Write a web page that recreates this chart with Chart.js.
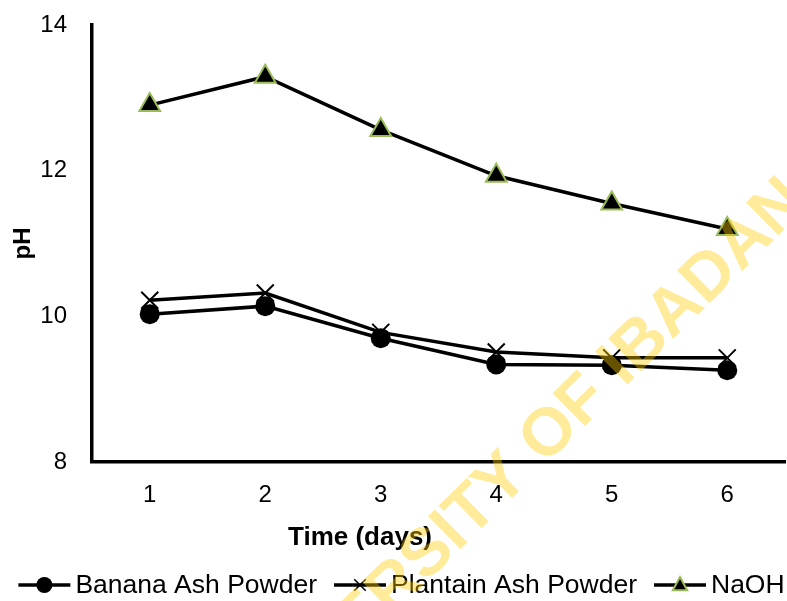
<!DOCTYPE html>
<html>
<head>
<meta charset="utf-8">
<script src="https://cdn.jsdelivr.net/npm/chart.js@4"></script>
<style>
  html, body { margin: 0; padding: 0; background: #fff; }
  #wrap { width: 787px; height: 601px; }
</style>
</head>
<body>
<div id="wrap"><canvas id="phChart" width="787" height="601"></canvas></div>
<script>
const FONT = "'Liberation Sans', Arial, sans-serif";
const C_GREEN = '#9BBB59';

const days = ['1', '2', '3', '4', '5', '6'];
const banana = [10.03, 10.14, 9.70, 9.34, 9.33, 9.26];
const plantain = [10.22, 10.32, 9.78, 9.51, 9.43, 9.43];
const naoh = [12.90, 13.29, 12.56, 11.93, 11.55, 11.20];
const yTicks = [8, 10, 12, 14];
const xTitle = 'Time (days)';

// marker for the legend, same look as the points on the lines
function drawMarker(ctx, ds, x, y, r) {
    ctx.save();
    ctx.fillStyle = ds.pointBackgroundColor || '#000';
    ctx.strokeStyle = ds.pointBorderColor || '#000';
    ctx.lineWidth = ds.pointBorderWidth || 0;
    ctx.beginPath();
    if (ds.pointStyle === 'circle') {
        ctx.arc(x, y, r, 0, Math.PI * 2);
        ctx.fill();
    } else if (ds.pointStyle === 'crossRot') {
        const d = r * 0.72;
        ctx.lineWidth = 1.5;
        ctx.moveTo(x - d, y - d); ctx.lineTo(x + d, y + d);
        ctx.moveTo(x + d, y - d); ctx.lineTo(x - d, y + d);
        ctx.stroke();
    } else {
        ctx.moveTo(x, y - r);
        ctx.lineTo(x + r * 0.9, y + r * 0.65);
        ctx.lineTo(x - r * 0.9, y + r * 0.65);
        ctx.closePath();
        ctx.fill();
        ctx.stroke();
    }
    ctx.restore();
}

const bottomLegend = {
    id: 'bottomLegend',
    afterDraw(chart) {
        const ctx = chart.ctx;
        const y = 585, lineW = 52, gapText = 5, gapItem = 17;
        ctx.save();
        ctx.font = '26.5px ' + FONT;
        const sets = chart.data.datasets;
        const widths = sets.map(ds => ctx.measureText(ds.label).width);
        let total = 0;
        widths.forEach((w, i) => { total += lineW + gapText + w + (i ? gapItem : 0); });
        let x = 401.5 - total / 2;
        sets.forEach((ds, i) => {
            ctx.strokeStyle = ds.borderColor;
            ctx.lineWidth = 3.5;
            ctx.beginPath();
            ctx.moveTo(x, y);
            ctx.lineTo(x + lineW, y);
            ctx.stroke();
            drawMarker(ctx, ds, x + lineW / 2, y, 8);
            ctx.fillStyle = '#000';
            ctx.textAlign = 'left';
            ctx.textBaseline = 'middle';
            ctx.fillText(ds.label, x + lineW + gapText, y + 1);
            x += lineW + gapText + widths[i] + gapItem;
        });
        ctx.restore();
    }
};

// x axis title sits left of the plot centre in the original
const axisTitle = {
    id: 'axisTitle',
    afterDraw(chart) {
        const ctx = chart.ctx;
        ctx.save();
        ctx.font = 'bold 26px ' + FONT;
        ctx.fillStyle = '#000';
        ctx.textAlign = 'center';
        ctx.textBaseline = 'middle';
        ctx.fillText(xTitle, 360, 538);
        ctx.restore();
    }
};

const watermark = {
    id: 'watermark',
    afterDraw(chart) {
        const ctx = chart.ctx;
        ctx.save();
        ctx.translate(775, 205);
        ctx.rotate(-44.6 * Math.PI / 180);
        ctx.font = 'bold 67px ' + FONT;
        ctx.fillStyle = 'rgba(255, 204, 0, 0.4)';
        ctx.textAlign = 'right';
        ctx.textBaseline = 'alphabetic';
        ctx.fillText('UNIVERSITY OF IBADAN', 25, 24);
        ctx.restore();
    }
};

const phChart = new Chart(
        document.getElementById('phChart'),
        {
            type: 'line',
            data: {
                labels: days,
                datasets: [
                    {
                        label: 'Banana Ash Powder',
                        data: banana,
                        borderColor: '#000',
                        backgroundColor: '#000',
                        borderWidth: 3.5,
                        pointStyle: 'circle',
                        pointRadius: 10,
                        pointBorderWidth: 0,
                        pointBackgroundColor: '#000',
                    },
                    {
                        label: 'Plantain Ash Powder',
                        data: plantain,
                        borderColor: '#000',
                        backgroundColor: '#000',
                        borderWidth: 3.5,
                        pointStyle: 'crossRot',
                        pointRadius: 12,
                        pointBorderWidth: 2,
                        pointBorderColor: '#000',
                    },
                    {
                        label: 'NaOH',
                        data: naoh,
                        borderColor: '#000',
                        backgroundColor: '#000',
                        borderWidth: 3.5,
                        pointStyle: 'triangle',
                        pointRadius: 12,
                        pointBorderWidth: 2,
                        pointBorderColor: C_GREEN,
                        pointBackgroundColor: '#000',
                    },
                ]
            },
            options: {
                animation: false,
                responsive: false,
                layout: {
                    autoPadding: false,
                    padding: { top: 25, right: 2, left: 0, bottom: 40 }
                },
                scales: {
                    x: {
                        offset: true,
                        grid: { display: false, drawTicks: false },
                        border: { display: true, color: '#000', width: 3.5 },
                        ticks: {
                            color: '#000',
                            padding: 19,
                            font: { family: FONT, size: 24 }
                        },
                        afterFit(scale) {
                            scale.height = 99;
                            scale.paddingLeft = 0;
                            scale.paddingRight = 0;
                        }
                    },
                    y: {
                        min: 8,
                        max: 14,
                        grid: { display: false, drawTicks: false },
                        border: { display: true, color: '#000', width: 3.5 },
                        afterBuildTicks(scale) {
                            scale.ticks = yTicks.map(v => ({ value: v }));
                        },
                        ticks: {
                            color: '#000',
                            padding: 25,
                            font: { family: FONT, size: 24 }
                        },
                        title: {
                            display: true,
                            text: 'pH',
                            color: '#000',
                            padding: { top: 9, bottom: 0 },
                            font: { family: FONT, size: 24, weight: 'bold' }
                        },
                        afterFit(scale) {
                            scale.width = 92;
                            scale.paddingTop = 0;
                            scale.paddingBottom = 0;
                        }
                    }
                },
                plugins: {
                    tooltip: { enabled: false },
                    legend: { display: false }
                }
            },
            plugins: [bottomLegend, axisTitle, watermark]
        });
</script>
</body>
</html>
